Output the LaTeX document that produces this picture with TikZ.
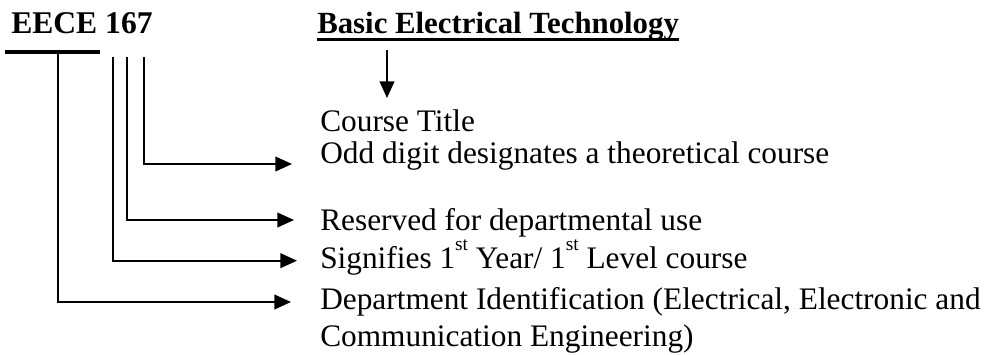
\documentclass[tikz,border=0pt]{standalone}
\usepackage{fontspec}
\setmainfont{Liberation Serif}
\usetikzlibrary{arrows.meta}
\newcommand{\supst}{\smash{\raisebox{13.2pt}{\fontsize{14.5}{16}\selectfont st}}}
\begin{document}
\begin{tikzpicture}[x=0.75pt,y=-0.75pt,
  lbl/.style={anchor=base west, inner sep=0pt, font=\fontsize{23.5}{28}\selectfont},
  head/.style={anchor=base west, inner sep=0pt, font=\fontsize{23.1}{28}\selectfont\bfseries},
  arr/.style={line width=1.5pt, -{Triangle[length=12.5pt,width=11pt]}},
  bar/.style={line width=3pt}]
\useasboundingbox (0,0) rectangle (1003,354);
% headings
\node[head, font=\fontsize{23.7}{28}\selectfont\bfseries] (code) at (11,33) {EECE 167};
\node[head] (title) at (317,33) {Basic Electrical Technology};
\draw[line width=1.9pt] ([yshift=-4.9pt]title.base west) -- ([yshift=-4.9pt]title.base east);
% explanations
\node[lbl] (t0) at (320,131.5) {Course Title};
\node[lbl] (t7) at (320,163) {Odd digit designates a theoretical course};
\node[lbl] (t6) at (320,230) {Reserved for departmental use};
\node[lbl] (t1) at (320,268) {Signifies 1\supst{} Year/ 1\supst{} Level course};
\node[lbl] (tE) at (320,309) {Department Identification (Electrical, Electronic and};
\node[lbl] (tE2) at (320,346) {Communication Engineering)};
% title arrow
\coordinate (ta) at (387,50);
\coordinate (tb) at (387,98);
\draw[arr] (ta) -- (tb);
% bar under EECE
\coordinate (bl) at (5,52.3);
\coordinate (br) at (100,52.3);
\draw[bar] (bl) -- (br);
% digit leaders
\coordinate (dE) at (57.7,52.3);
\coordinate (d1) at (112.7,57.3);
\coordinate (d6) at (127,57.3);
\coordinate (d7) at (144,57.3);
\coordinate (e7) at (292,164);
\coordinate (e6) at (294,220);
\coordinate (e1) at (297,260.7);
\coordinate (eE) at (291,302);
\draw[arr] (d7) |- (e7);
\draw[arr] (d6) |- (e6);
\draw[arr] (d1) |- (e1);
\draw[arr] (dE) |- (eE);
\end{tikzpicture}
\end{document}
